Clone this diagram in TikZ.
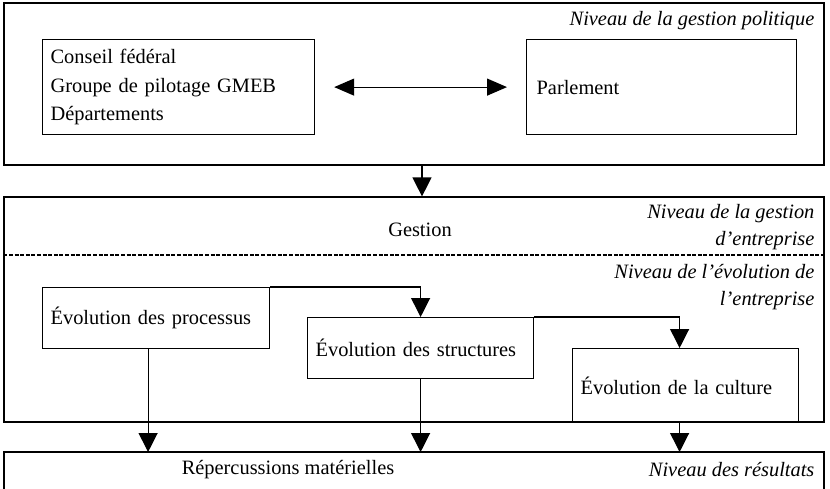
\documentclass[tikz,border=0pt]{standalone}
\usepackage{fontspec}
\setmainfont{Liberation Serif}
\usetikzlibrary{arrows.meta,positioning}

\begin{document}
\begin{tikzpicture}
        [x=0.5pt, y=-0.5pt, line width=0.6pt,
          font=\fontsize{10.2}{14.2}\selectfont,
          panel/.style={draw, minimum width=410pt, inner sep=0pt},
          element/.style={draw, anchor=north west, align=left, inner xsep=4pt},
          level/.style={anchor=east, align=right, inner sep=0pt, font=\fontsize{10.2}{13.5}\selectfont\itshape},
          flow/.style={-{Triangle[length=9.5pt, width=9.5pt]}},
          separator/.style={line width=1.1pt, dash pattern=on 2pt off 0.8pt}]
        \useasboundingbox (0,0) rectangle (830,488);
        % levels
        \node[panel, minimum height=81pt] (politique) at (414,84) {};
        \node[panel, minimum height=112.5pt] (entreprise) at (414,309.5) {};
        \draw[separator] (entreprise.west |- 0,255) -- (entreprise.east |- 0,255);
        \coordinate (res) at (4,452);
        \draw (4,489) -- (res) -- (824,452) -- (824,489);
        \node[level] (lpolitique) at (815,21) {Niveau de la gestion politique};
        \node[level] (lgestion) at (815,227) {Niveau de la gestion\\d’entreprise};
        \node[level] (levolution) at (815,287) {Niveau de l’évolution de\\l’entreprise};
        \node[level] (lresultats) at (815,470) {Niveau des résultats};
        % actors
        \node[element, text width=128pt, minimum height=47.5pt] (conseil) at (42,39)
          {Conseil fédéral\\Groupe de pilotage GMEB\\Départements};
        \node[element, text width=125pt, minimum height=47.5pt, inner xsep=5pt] (parlement) at (526,39) {Parlement};
        \draw[{Triangle[length=10pt, width=8.5pt]}-{Triangle[length=10pt, width=8.5pt]},
          shorten <=9.5pt, shorten >=9.5pt] (conseil) -- (parlement);
        \draw[flow] ([xshift=4pt]politique.south) -- ([xshift=4pt]entreprise.north);
        \node (gestion) at (420,230) {Gestion};
        % evolution
        \node[element, text width=105.5pt, minimum height=30.5pt] (processus) at (42,287) {Évolution des processus};
        \node[element, text width=105pt, minimum height=30.5pt] (structures) at (307,317) {Évolution des structures};
        \node[element, text width=105pt, minimum height=37pt] (culture) at (572,348) {Évolution de la culture};
        \draw[flow] (processus.north east) -| (structures.north);
        \draw[flow] (structures.north east) -| ([xshift=-3pt]culture.north);
        % results
        \node (repercussions) at (288,470) {Répercussions matérielles};
        \draw[flow] ([xshift=-4pt]processus.south) -- ([xshift=-4pt]processus.south |- res);
        \draw[flow] (structures.south) -- (structures.south |- res);
        \draw[flow] ([xshift=-3pt]culture.south) -- ([xshift=-3pt]culture.south |- res);
      \end{tikzpicture}
\end{document}
